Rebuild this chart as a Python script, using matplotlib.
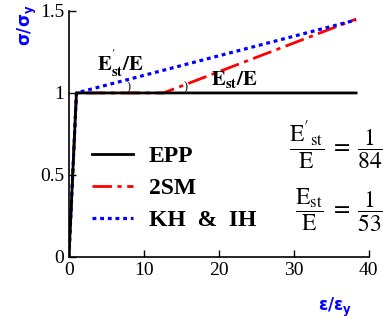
import matplotlib
matplotlib.use("Agg")
import matplotlib.pyplot as plt

plt.rcParams['font.family'] = ['Liberation Serif', 'DejaVu Serif']
plt.rcParams['mathtext.fontset'] = 'stix'

# strain / yield strain and stress / yield stress
epp_x = [0, 1, 38.3]
epp_y = [0, 1, 1]
sm2_x = [0, 1, 12.6, 38.3]
sm2_y = [0, 1, 1, 1.45]
kh_x = [0, 1, 38.3]
kh_y = [0, 1, 1.445]

fig = plt.figure(figsize=(3.83, 3.22), dpi=100)
ax = fig.add_axes([0.180, 0.202, 0.783, 0.764])

ax.plot(epp_x, epp_y, color='black', lw=2, label='EPP', zorder=3)
ax.plot(sm2_x, sm2_y, color='red', lw=2, dashes=[7, 2, 1.5, 2], label='2SM', zorder=2)
ax.plot(kh_x, kh_y, color='blue', lw=2.3, dashes=[1.2, 1.2], label='KH  &  IH', zorder=2)

ax.set_xlim(0, 40)
ax.set_ylim(0, 1.5)
ax.set_xticks([0, 10, 20, 30, 40])
ax.set_yticks([0, 0.5, 1, 1.5])
ax.set_yticklabels(['0', '0.5', '1', '1.5'])
ax.tick_params(direction='in', labelsize=14, length=5, width=1)
for s in ['top', 'right']:
    ax.spines[s].set_visible(False)
for s in ['left', 'bottom']:
    ax.spines[s].set_linewidth(1.2)

ax.text(-0.14, 0.94, r'$\mathbf{\sigma/\sigma_y}$', transform=ax.transAxes, rotation=90,
        color='blue', fontsize=12, ha='center', va='center', math_fontfamily='dejavusans')
ax.text(0.887, -0.207, r'$\mathbf{\varepsilon/\varepsilon_y}$', transform=ax.transAxes,
        color='blue', fontsize=12, ha='center', va='center', math_fontfamily='dejavusans')

# slope annotations
ax.text(3.7, 1.18, r"$\mathbf{E_{st}^{'}/E}$", fontsize=15, ha='left', va='center')
ax.text(19.0, 1.08, r"$\mathbf{E_{st}/E}$", fontsize=15, ha='left', va='center')
ax.text(7.9, 0.995, ')', fontsize=9, ha='center', va='bottom')
ax.text(15.6, 0.995, ')', fontsize=9, ha='center', va='bottom')

ax.text(41.9, 0.68, r"$\dfrac{\mathrm{E}'_{\mathrm{st}}}{\mathrm{E}}\;=\;\dfrac{1}{84}$",
        fontsize=17, ha='right', va='center')
ax.text(41.9, 0.285, r"$\dfrac{\mathrm{E}_{\mathrm{st}}}{\mathrm{E}}\;=\;\dfrac{1}{53}$",
        fontsize=17, ha='right', va='center')

leg = ax.legend(loc='lower left', bbox_to_anchor=(0.077, 0.105), frameon=False,
                prop={'weight': 'bold', 'size': 17}, handlelength=1.75,
                labelspacing=0.45, handletextpad=0.65, borderpad=0, borderaxespad=0)

fig.savefig('out.png', dpi=100)
